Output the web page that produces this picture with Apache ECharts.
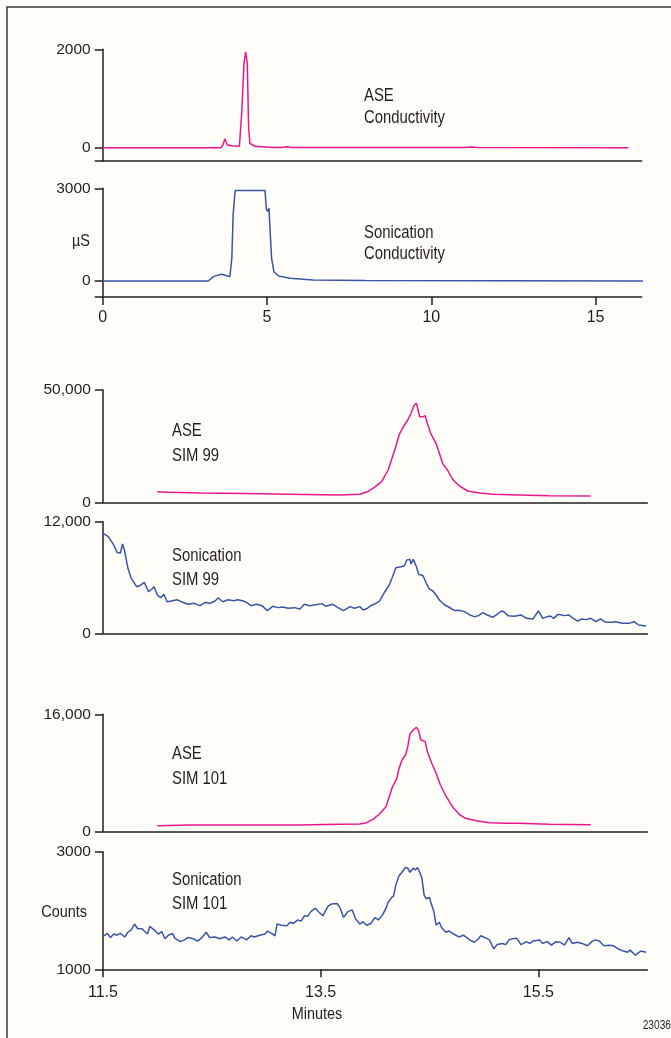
<!DOCTYPE html>
<html>
<head>
<meta charset="utf-8">
<script src="https://cdn.jsdelivr.net/npm/echarts@6/dist/echarts.min.js"></script>
<style>
  html, body { margin: 0; padding: 0; background: #fffdf8; }
  #chart { width: 671px; height: 1038px; }
</style>
</head>
<body>
<div id="chart"></div>
<script>
// [minutes, signal]
const aseConductivity = [
  [0, 0], [3.6, 0], [3.66, 60], [3.72, 183], [3.79, 55], [3.93, 40], [4.16, 30],
  [4.23, 700], [4.3, 1715], [4.35, 1950], [4.4, 1715], [4.44, 427], [4.48, 90],
  [4.63, 30], [5.19, 5], [5.45, 5], [5.6, 20], [5.75, 5], [11.0, 5], [11.2, 15],
  [11.4, 5], [16.0, 0]
];
const sonConductivity = [
  [0, 0], [3.21, 0], [3.37, 140], [3.5, 190], [3.62, 217], [3.77, 170], [3.87, 140],
  [3.93, 735], [3.97, 2140], [4.03, 2930], [4.94, 2930], [4.98, 2320], [5.02, 2250],
  [5.06, 2360], [5.1, 1500], [5.14, 735], [5.21, 300], [5.35, 160], [5.7, 87],
  [6.4, 32], [8.0, 15], [12.0, 5], [16.45, 0]
];
const aseSim99 = [
  [12.0, 4720], [12.1, 4450], [12.4, 4150], [12.8, 3900], [13.2, 3600], [13.67, 3300],
  [13.86, 3600], [13.93, 4720], [13.99, 6500], [14.06, 9170], [14.12, 14380],
  [14.16, 20300], [14.19, 24750], [14.22, 29960], [14.26, 33660], [14.3, 36640],
  [14.33, 39620], [14.36, 43320], [14.38, 44070], [14.39, 41850], [14.41, 38110],
  [14.44, 38110], [14.46, 38550], [14.48, 35170], [14.51, 30720], [14.56, 26270],
  [14.59, 21810], [14.62, 17360], [14.67, 13940], [14.71, 10370], [14.77, 7390],
  [14.85, 5030], [14.96, 4140], [15.08, 3560], [15.32, 3250], [15.6, 2900], [15.98, 2800]
];
const sonSim99 = [
  [11.51, 10680], [11.55, 10390], [11.6, 9490], [11.63, 8700], [11.66, 8600], [11.68, 9600],
  [11.7, 8850], [11.73, 6990], [11.76, 5910], [11.81, 5010], [11.84, 5120], [11.88, 5480],
  [11.92, 4470], [11.95, 4760], [11.97, 5010], [12.0, 4120], [12.03, 3830], [12.06, 4190],
  [12.09, 3400], [12.13, 3470], [12.18, 3610], [12.22, 3400], [12.28, 3120], [12.34, 3220],
  [12.39, 2970], [12.44, 3330], [12.48, 3200], [12.53, 3470], [12.56, 3830], [12.6, 3400],
  [12.65, 3610], [12.7, 3500], [12.74, 3610], [12.79, 3470], [12.82, 3330], [12.86, 2970],
  [12.91, 3120], [12.96, 2970], [13.01, 2440], [13.06, 2900], [13.11, 2760], [13.15, 2830],
  [13.2, 2690], [13.26, 2760], [13.31, 2620], [13.35, 3120], [13.4, 2970], [13.44, 3040],
  [13.51, 3190], [13.55, 2900], [13.61, 3120], [13.66, 2760], [13.71, 2440], [13.77, 2870],
  [13.81, 2690], [13.86, 2870], [13.89, 2510], [13.93, 2690], [13.96, 2970], [13.99, 3120],
  [14.04, 3470], [14.09, 4470], [14.13, 5190], [14.16, 6080], [14.19, 7050], [14.24, 7160],
  [14.27, 7270], [14.29, 7880], [14.32, 7950], [14.33, 7450], [14.35, 7950], [14.38, 7160],
  [14.4, 6340], [14.44, 6190], [14.47, 5380], [14.5, 4760], [14.53, 4550], [14.56, 4120],
  [14.59, 3580], [14.64, 3040], [14.68, 2800], [14.73, 2440], [14.77, 2470], [14.82, 2330],
  [14.87, 1970], [14.91, 1790], [14.95, 1900], [14.99, 2220], [15.03, 1970], [15.08, 1720],
  [15.12, 2040], [15.16, 2400], [15.19, 2260], [15.22, 1900], [15.28, 1830], [15.34, 1970],
  [15.39, 1610], [15.45, 1540], [15.47, 1900], [15.5, 2400], [15.54, 1610], [15.58, 1790],
  [15.61, 1860], [15.64, 1610], [15.68, 2040], [15.74, 1900], [15.78, 1970], [15.81, 1680],
  [15.86, 1320], [15.9, 1540], [15.94, 1470], [15.98, 1610], [16.03, 1250], [16.07, 1540],
  [16.12, 1180], [16.18, 1180], [16.21, 1250], [16.27, 1070], [16.33, 1070], [16.38, 1250],
  [16.42, 890], [16.49, 790]
];
const aseSim101 = [
  [12.0, 820], [12.3, 900], [12.8, 900], [13.3, 920], [13.67, 1010], [13.86, 1050],
  [13.92, 1230], [13.98, 1690], [14.04, 2410], [14.1, 3410], [14.13, 4770], [14.16, 6130],
  [14.2, 7280], [14.22, 8640], [14.25, 9870], [14.28, 10450], [14.3, 11590], [14.32, 13320],
  [14.35, 13860], [14.38, 14230], [14.4, 13770], [14.42, 12500], [14.46, 12270],
  [14.48, 10900], [14.52, 9320], [14.56, 7960], [14.6, 6370], [14.65, 4870], [14.71, 3410],
  [14.77, 2410], [14.83, 1830], [14.93, 1500], [15.05, 1230], [15.2, 1140], [15.32, 1140],
  [15.6, 1000], [15.98, 950]
];
const sonSim101 = [
  [11.51, 1570], [11.54, 1610], [11.57, 1540], [11.6, 1600], [11.63, 1580], [11.66, 1610],
  [11.7, 1550], [11.73, 1630], [11.76, 1670], [11.79, 1770], [11.82, 1690], [11.86, 1690],
  [11.89, 1630], [11.91, 1600], [11.93, 1730], [11.97, 1670], [12.01, 1600], [12.04, 1640],
  [12.07, 1520], [12.1, 1580], [12.14, 1610], [12.16, 1530], [12.21, 1470], [12.25, 1500],
  [12.28, 1540], [12.33, 1520], [12.37, 1480], [12.41, 1540], [12.45, 1630], [12.48, 1540],
  [12.53, 1550], [12.57, 1520], [12.62, 1550], [12.66, 1500], [12.69, 1550], [12.73, 1480],
  [12.77, 1550], [12.82, 1500], [12.86, 1570], [12.89, 1550], [12.94, 1580], [12.99, 1600],
  [13.01, 1650], [13.05, 1610], [13.08, 1570], [13.1, 1770], [13.14, 1750], [13.19, 1740],
  [13.22, 1800], [13.25, 1780], [13.29, 1840], [13.32, 1820], [13.35, 1910], [13.38, 1900],
  [13.41, 1980], [13.45, 2040], [13.48, 1980], [13.52, 1910], [13.57, 2080], [13.6, 2110],
  [13.65, 2120], [13.68, 2040], [13.71, 1880], [13.75, 1980], [13.79, 2010], [13.82, 1860],
  [13.86, 1770], [13.89, 1810], [13.92, 1750], [13.96, 1780], [13.97, 1770], [14.0, 1880],
  [14.03, 1840], [14.07, 1930], [14.1, 2040], [14.12, 2140], [14.15, 2220], [14.17, 2250],
  [14.19, 2430], [14.22, 2590], [14.25, 2660], [14.28, 2730], [14.3, 2720], [14.32, 2650],
  [14.35, 2720], [14.37, 2690], [14.39, 2730], [14.41, 2650], [14.43, 2550], [14.45, 2260],
  [14.47, 2200], [14.5, 2220], [14.51, 2150], [14.54, 1980], [14.56, 1750], [14.59, 1800],
  [14.61, 1710], [14.65, 1630], [14.68, 1650], [14.72, 1600], [14.77, 1550], [14.81, 1580],
  [14.87, 1500], [14.91, 1460], [14.95, 1520], [14.97, 1570], [15.02, 1530], [15.05, 1500],
  [15.09, 1350], [15.12, 1420], [15.17, 1440], [15.2, 1420], [15.23, 1500], [15.26, 1520],
  [15.3, 1530], [15.34, 1420], [15.39, 1470], [15.42, 1440], [15.45, 1480], [15.51, 1500],
  [15.54, 1440], [15.58, 1470], [15.62, 1410], [15.66, 1470], [15.7, 1460], [15.74, 1410],
  [15.78, 1540], [15.81, 1440], [15.86, 1460], [15.9, 1440], [15.95, 1400], [15.99, 1470],
  [16.02, 1500], [16.06, 1480], [16.1, 1400], [16.15, 1410], [16.19, 1400], [16.23, 1350],
  [16.28, 1310], [16.32, 1290], [16.34, 1330], [16.39, 1240], [16.44, 1310], [16.49, 1290]
];

// tick labels
const topXTicks = [0, 5, 10, 15];
const bottomXTicks = [11.5, 13.5, 15.5];

const FONT = '"Liberation Sans", Arial, sans-serif';
const INK = '#231f20';
const MAGENTA = '#ec168c';
const BLUE = '#3a55a6';

// one panel per trace
const panels = [
  { data: aseConductivity, color: MAGENTA, top: 49.3, height: 111.7, left: 102.7, width: 538.9,
    xMin: 0, xMax: 16.4, yMin: -270, yMax: 2000, yLabels: [0, 2000], comma: false },
  { data: sonConductivity, color: BLUE, top: 188.3, height: 108.7, left: 102.7, width: 538.9,
    xMin: 0, xMax: 16.4, yMin: -518, yMax: 3000, yLabels: [0, 3000], comma: false, xTicks: topXTicks },
  { data: aseSim99, color: MAGENTA, top: 390, height: 112.3, left: 102.9, width: 544.4,
    xMin: 11.5, xMax: 16.5, yMin: 0, yMax: 50000, yLabels: [0, 50000], comma: true },
  { data: sonSim99, color: BLUE, top: 521.7, height: 111.6, left: 102.9, width: 544.4,
    xMin: 11.5, xMax: 16.5, yMin: 0, yMax: 12000, yLabels: [0, 12000], comma: true },
  { data: aseSim101, color: MAGENTA, top: 714.3, height: 117.4, left: 102.9, width: 544.4,
    xMin: 11.5, xMax: 16.5, yMin: 0, yMax: 16000, yLabels: [0, 16000], comma: true },
  { data: sonSim101, color: BLUE, top: 851.7, height: 117.6, left: 102.9, width: 544.4,
    xMin: 11.5, xMax: 16.5, yMin: 1000, yMax: 3000, yLabels: [1000, 3000], comma: false, xTicks: bottomXTicks }
];

const axisLine = { show: true, onZero: false, lineStyle: { color: INK, width: 1.5 } };

const grid = [], xAxis = [], yAxis = [], series = [];
panels.forEach((p, i) => {
  grid.push({ left: p.left, top: p.top, width: p.width, height: p.height });
  xAxis.push({
    type: 'value', gridIndex: i, min: p.xMin, max: p.xMax,
    axisLine: axisLine,
    axisTick: p.xTicks ? { show: true, length: 8, customValues: p.xTicks, lineStyle: { color: INK, width: 1.5 } } : { show: false },
    axisLabel: p.xTicks ? { show: true, customValues: p.xTicks, margin: i === 5 ? 15 : 13,
      color: INK, fontFamily: FONT, fontSize: 16 } : { show: false },
    splitLine: { show: false }
  });
  const tickVals = p.yMin < p.yLabels[0] ? [p.yMin].concat(p.yLabels) : p.yLabels;
  yAxis.push({
    type: 'value', gridIndex: i, min: p.yMin, max: p.yMax,
    axisLine: axisLine,
    axisTick: { show: true, length: 8, customValues: tickVals, lineStyle: { color: INK, width: 1.5 } },
    axisLabel: { show: true, customValues: p.yLabels, margin: 12, color: INK, fontFamily: FONT, fontSize: 15.5,
      formatter: v => p.comma ? v.toLocaleString('en-US') : String(v) },
    splitLine: { show: false }
  });
  series.push({
    type: 'line', xAxisIndex: i, yAxisIndex: i, data: p.data,
    showSymbol: false, clip: false,
    lineStyle: { color: p.color, width: 1.5 }, itemStyle: { color: p.color }
  });
});

// condensed-looking text: squeeze a regular face horizontally
function note(text, x, y, opts) {
  opts = opts || {};
  return { type: 'text', x: x, y: y, scaleX: 0.85, scaleY: 1,
    style: { text: text, fill: INK, font: (opts.size || 17.5) + 'px ' + FONT, lineHeight: opts.lh || 22,
      textAlign: opts.align || 'left', textVerticalAlign: opts.valign || 'top' } };
}

const chart = echarts.init(document.getElementById('chart'));
chart.setOption({
  animation: false,
  backgroundColor: '#fffdf8',
  grid: grid, xAxis: xAxis, yAxis: yAxis, series: series,
  graphic: [
    { type: 'polyline', shape: { points: [[7, 1038], [7, 7], [671, 7]] },
      style: { stroke: '#3a3a3a', lineWidth: 1.5, fill: null } },
    note('ASE\nConductivity', 364, 85, { lh: 22 }),
    note('Sonication\nConductivity', 364, 223, { lh: 21 }),
    note('ASE\nSIM 99', 172, 419, { lh: 25 }),
    note('Sonication\nSIM 99', 172, 544, { lh: 24 }),
    note('ASE\nSIM 101', 172, 742, { lh: 25 }),
    note('Sonication\nSIM 101', 172, 868, { lh: 24 }),
    note('µS', 90, 241, { size: 17, align: 'right', valign: 'middle' }),
    note('Counts', 87, 912, { size: 17, align: 'right', valign: 'middle' }),
    note('Minutes', 317, 1014, { size: 17, align: 'center', valign: 'middle' }),
    note('23036', 671, 1026, { size: 12, align: 'right', valign: 'middle' })
  ]
});
</script>
</body>
</html>
